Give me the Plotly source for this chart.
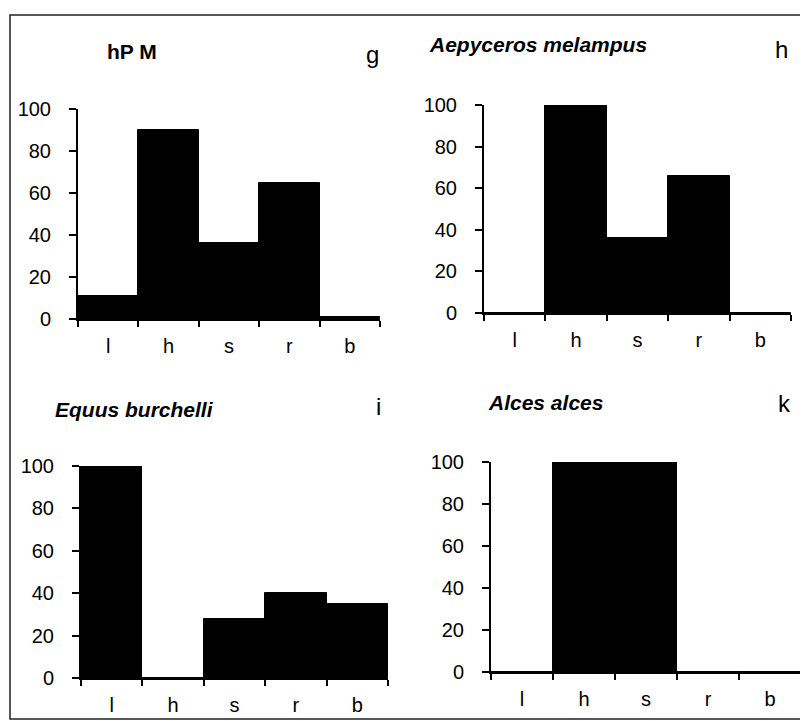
import plotly.graph_objects as go

W, H = 808, 721
OFF = 8  # page body margin offset

categories = ["l", "h", "s", "r", "b"]

titles = ["hP M", "Aepyceros melampus", "Equus burchelli", "Alces alces"]
title_italic = [False, True, True, True]
letters = ["g", "h", "i", "k"]

values_g = [11, 90, 36, 65, 1]
values_h = [0, 100, 36, 66, 0]
values_i = [100, 0, 28, 40, 35]
values_k = [0, 100, 100, 0, 0]
series = [values_g, values_h, values_i, values_k]

y_ticks = [0, 20, 40, 60, 80, 100]

# panel geometry in pixels: x_left, x_right, y_zero, y_hundred
geom = [
    (78, 380, 319, 109),
    (484, 791, 313, 105),
    (81, 388, 678, 466),
    (491, 801, 672, 462),
]
# title (left x, center y), letter (center x, center y)
title_pos = [(105, 52), (427, 45), (53, 409), (486, 402)]
letter_pos = [(372, 55), (781, 50), (378, 406), (784, 403)]

FONT = "Liberation Sans, Arial, sans-serif"

def px(x):
    return (x - OFF) / W

def py(y):
    return 1 - (y - OFF) / H

fig = go.Figure()
layout = dict(
    width=W, height=H,
    margin=dict(l=0, r=0, t=0, b=0, autoexpand=False),
    paper_bgcolor="white", plot_bgcolor="rgba(0,0,0,0)",
    showlegend=False, bargap=0,
    font=dict(family=FONT, color="black", size=20),
)
annotations = []
for i, vals in enumerate(series):
    n = "" if i == 0 else str(i + 1)
    x0, x1, yz, yh = geom[i]
    fig.add_trace(go.Bar(
        x=categories, y=vals, xaxis="x" + n, yaxis="y" + n,
        marker=dict(color="black", line=dict(color="black", width=1)),
        width=1.0,
    ))
    layout["xaxis" + n] = dict(
        domain=[px(x0), px(x1)], anchor="y" + n, automargin=False,
        type="category", categoryorder="array", categoryarray=categories,
        range=[-0.5, 4.5], tickson="boundaries",
        ticks="outside", ticklen=6, tickwidth=1.5, tickcolor="black",
        showline=True, linecolor="black", linewidth=2,
        showgrid=False, zeroline=False,
        tickfont=dict(family=FONT, size=20, color="black"),
        ticklabelstandoff=8,
    )
    layout["yaxis" + n] = dict(
        domain=[py(yz), py(yh)], anchor="x" + n, automargin=False,
        range=[0, 100], tickvals=y_ticks,
        ticks="outside", ticklen=7, tickwidth=1.5, tickcolor="black",
        showline=True, linecolor="black", linewidth=2,
        showgrid=False, zeroline=False,
        tickfont=dict(family=FONT, size=20, color="black"),
        ticklabelstandoff=14,
    )
    t = titles[i]
    txt = "<b><i>%s</i></b>" % t if title_italic[i] else "<b>%s</b>" % t
    tx, ty = title_pos[i]
    annotations.append(dict(
        text=txt, x=px(tx), y=py(ty), xref="paper", yref="paper",
        xanchor="left", yanchor="middle", showarrow=False,
        font=dict(family=FONT, size=21, color="black"),
    ))
    lx, ly = letter_pos[i]
    annotations.append(dict(
        text=letters[i], x=px(lx), y=py(ly), xref="paper", yref="paper",
        xanchor="center", yanchor="middle", showarrow=False,
        font=dict(family=FONT, size=24, color="black"),
    ))

layout["annotations"] = annotations
layout["shapes"] = [dict(
    type="rect", xref="paper", yref="paper",
    x0=px(10), x1=px(840), y0=py(719), y1=py(15),
    line=dict(color="#222222", width=1.5), fillcolor="rgba(0,0,0,0)",
)]
fig.update_layout(**layout)
fig.write_html("out.html")
